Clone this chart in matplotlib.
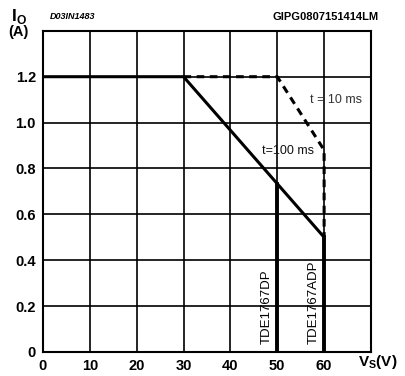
import matplotlib.pyplot as plt

plt.rcParams['font.family'] = ['Liberation Sans', 'DejaVu Sans']

# 100 ms curve (solid) and 10 ms curve (dashed)
vs_100 = [0, 30, 60]
io_100 = [1.2, 1.2, 0.5]
vs_10 = [30, 50, 60, 60]
io_10 = [1.2, 1.2, 0.88, 0.5]
# device limits
dev_names = ['TDE1767DP', 'TDE1767ADP']
dev_vs = [50, 60]
dev_io = [0.733, 0.5]

xticks = [0, 10, 20, 30, 40, 50, 60, 70]
yticks = [0, 0.2, 0.4, 0.6, 0.8, 1.0, 1.2, 1.4]
ylabels = ['0', '0.2', '0.4', '0.6', '0.8', '1.0', '1.2', '']
xlabels = ['0', '10', '20', '30', '40', '50', '60', '']

fig = plt.figure(figsize=(4.05, 3.76), dpi=100)
ax = fig.add_axes([0.106, 0.064, 0.810, 0.854])
ax.set_xlim(0, 70)
ax.set_ylim(0, 1.4)
ax.set_xticks(xticks)
ax.set_yticks(yticks)
ax.set_xticklabels(xlabels, fontsize=10.5, fontweight='bold')
ax.set_yticklabels(ylabels, fontsize=10.5, fontweight='bold')
ax.tick_params(length=0, pad=5)
ax.grid(True, color='black', linewidth=1.2)
for s in ax.spines.values():
    s.set_linewidth(1.5)

ax.plot(vs_100, io_100, color='black', linewidth=2.2, solid_capstyle='butt')
ax.plot(vs_10, io_10, color='black', linewidth=2.2, linestyle=(0, (2.5, 1.8)))
for name, v, i in zip(dev_names, dev_vs, dev_io):
    ax.plot([v, v], [0, i], color='black', linewidth=2.8)
    ax.text(v - 1.0, 0.035, name, rotation=90, ha='right', va='bottom', fontsize=9.5)

ax.text(57, 1.1, 't = 10 ms', fontsize=9, color='#333333', va='center')
ax.text(46.7, 0.875, 't=100 ms', fontsize=9, color='#111111', va='center')

fig.text(0.028, 0.955, 'I$_\\mathregular{O}$', fontsize=12.5, fontweight='bold', va='center')
fig.text(0.02, 0.915, '(A)', fontsize=10.5, fontweight='bold', va='center')
fig.text(0.123, 0.955, 'D03IN1483', fontsize=6.5, fontstyle='italic', fontweight='bold', va='center')
fig.text(0.935, 0.955, 'GIPG0807151414LM', fontsize=8, fontweight='bold', ha='right', va='center')
fig.text(0.885, 0.036, 'V$_\\mathregular{S}$(V)', fontsize=11, fontweight='bold', va='center')

fig.savefig('out.png', dpi=100)
